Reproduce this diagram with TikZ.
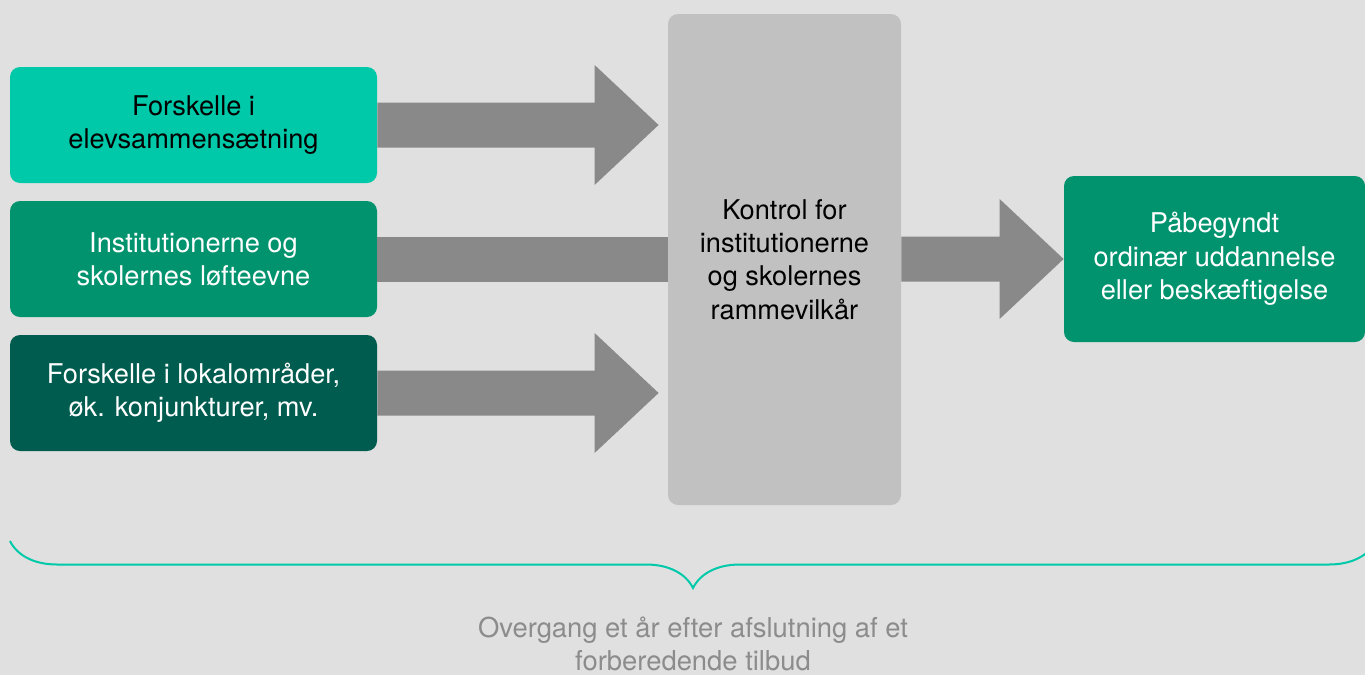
\documentclass[tikz,border=0pt]{standalone}
\usepackage{fontspec}
\setmainfont{TeX Gyre Heros}
\usetikzlibrary{calc,decorations.pathreplacing}
\definecolor{BgGray}{HTML}{E0E0E0}
\definecolor{ArrowGray}{HTML}{898989}
\definecolor{CtrlGray}{HTML}{C1C1C1}
\definecolor{TealA}{HTML}{00C9A9}
\definecolor{TealB}{HTML}{00936E}
\definecolor{TealC}{HTML}{005C4F}
\definecolor{NoteGray}{HTML}{8C8C8C}

\tikzset{
  box/.style={rounded corners=5pt, inner sep=0pt, align=center,
    font=\fontsize{13.6}{16.7}\selectfont},
  fat/.style={fill=ArrowGray},
}

% thick block arrow, from start point to tip (same height)
\newcommand\fatarrow[2]{%
  \fill[fat] ($(#1)+(0,-22.5)$) -- ($(#2)+(-64,-22.5)$) -- ($(#2)+(-64,-60)$)
    -- (#2) -- ($(#2)+(-64,60)$) -- ($(#2)+(-64,22.5)$) -- ($(#1)+(0,22.5)$) -- cycle;}

\begin{document}
\begin{tikzpicture}[x=0.5pt, y=-0.5pt]
  \fill[BgGray] (0,0) rectangle (1365,675);
  \useasboundingbox (0,0) rectangle (1365,675);

  % boxes
  \node[box, fill=CtrlGray, minimum width=116.5pt, minimum height=245.5pt] (ctrl) at (784.5,259.5)
    {Kontrol for\\institutionerne\\og skolernes\\rammevilkår};
  \foreach \c/\t/\y/\txt [count=\i] in {TealA/black/125/{Forskelle i\\elevsammensætning},
      TealB/white/259/{Institutionerne og\\skolernes løfteevne},
      TealC/white/393/{Forskelle i lokalområder,\\øk. konjunkturer, mv.}} {
    \node[box, fill=\c, text=\t, minimum width=183.5pt, minimum height=58pt] (src\i) at (193.5,\y) {\txt};
  }
  \node[box, fill=TealB, text=white, minimum width=150.5pt, minimum height=83pt] (goal) at (1214.5,259)
    {Påbegyndt\\ordinær uddannelse\\eller beskæftigelse};

  % arrows
  \path (src1.east -| ctrl.west) ++(-9,0) coordinate (tip1);
  \path (src3.east -| ctrl.west) ++(-9,0) coordinate (tip3);
  \coordinate (tip4) at (goal.west);
  \fatarrow{src1.east}{tip1}
  \fatarrow{src3.east}{tip3}
  \fatarrow{ctrl.east |- goal.west}{tip4}
  \fill[fat] ($(src2.east)+(0,-22.5)$) rectangle ($(src2.east -| ctrl.west)+(0,22.5)$);

  % brace and note
  \coordinate (braceR) at (1376,541);
  \coordinate (braceL) at (10,541);
  \draw[TealA, line width=1pt, decorate, decoration={brace, amplitude=23.5pt}] (braceR) -- (braceL);
  \node[text=NoteGray, align=center, font=\fontsize{13.7}{16.5}\selectfont] (note) at (693,644)
    {Overgang et år efter afslutning af et\\forberedende tilbud};
\end{tikzpicture}
\end{document}
